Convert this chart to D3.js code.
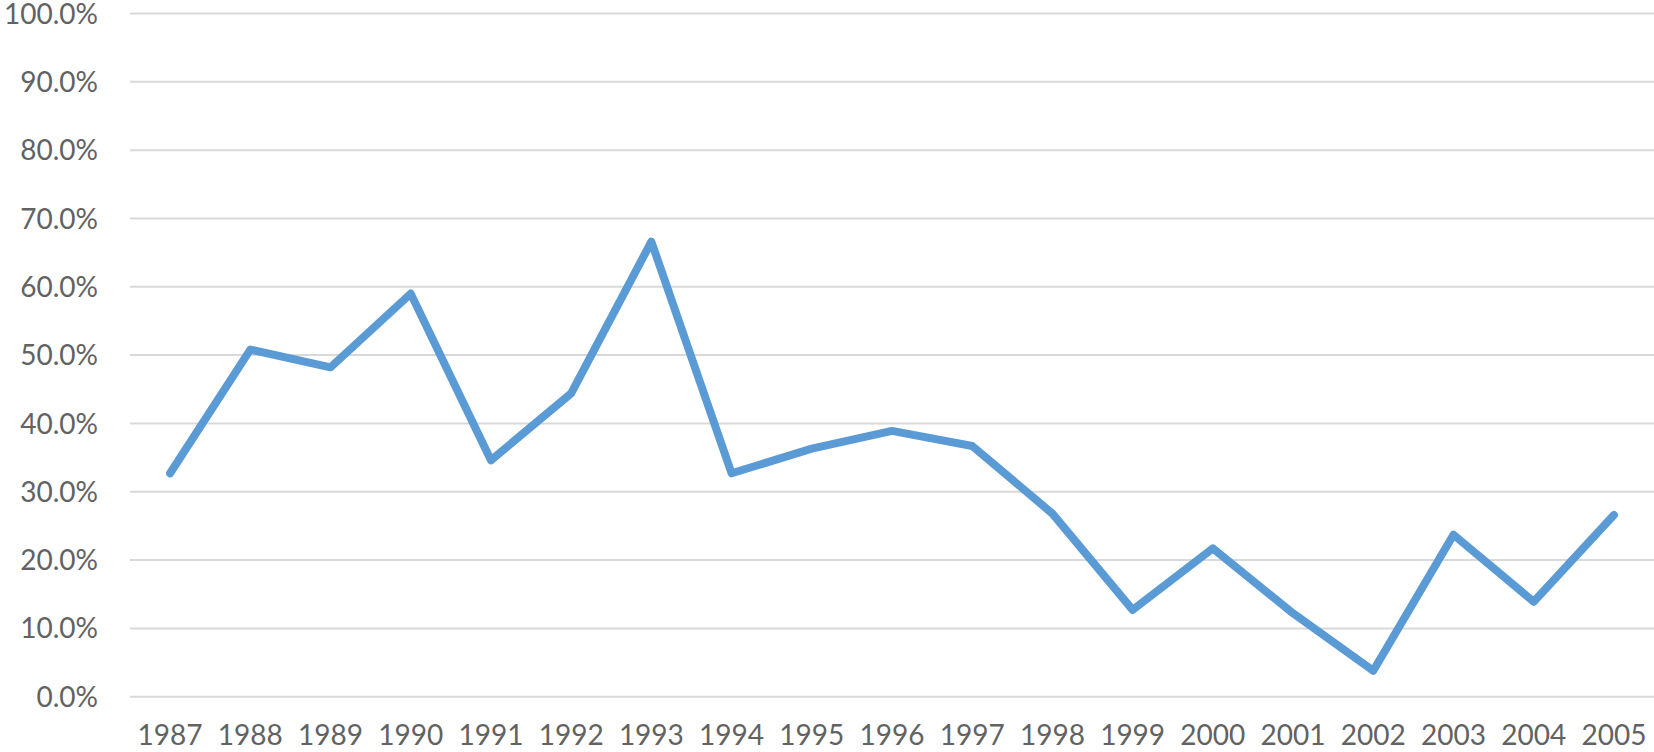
<!DOCTYPE html>
<html>
<head>
<meta charset="utf-8">
<script src="https://cdn.jsdelivr.net/npm/d3@7"></script>
<style>
  html, body { margin: 0; padding: 0; background: #fff; }
  svg { display: block; }
</style>
</head>
<body>
<svg id="chart" width="1654" height="752"></svg>
<script>
const years = ["1987","1988","1989","1990","1991","1992","1993","1994","1995","1996","1997","1998","1999","2000","2001","2002","2003","2004","2005"];
const values = [0.327, 0.508, 0.482, 0.590, 0.346, 0.444, 0.666, 0.327, 0.363, 0.389, 0.367, 0.268, 0.127, 0.217, 0.122, 0.038, 0.237, 0.139, 0.266];
const yTicks = [0, 0.1, 0.2, 0.3, 0.4, 0.5, 0.6, 0.7, 0.8, 0.9, 1.0];

(function () {
const svg = d3.select("#chart");
const mLeft = 130, mRight = 1654, mTop = 13.5, mBottom = 696.7;

const x = d3.scaleBand().domain(years).range([mLeft, mRight]);
const y = d3.scaleLinear().domain([0, 1]).range([mBottom, mTop]);

const font = "Lato, 'Open Sans', sans-serif";
const textColor = "#626262";

// gridlines
svg.append("g").selectAll("line").data(yTicks).join("line")
  .attr("x1", mLeft).attr("x2", mRight)
  .attr("y1", d => y(d)).attr("y2", d => y(d))
  .attr("stroke", "#d9d9d9").attr("stroke-width", 2);

// y axis labels
const fmt = d3.format(".1%");
svg.append("g").selectAll("text").data(yTicks).join("text")
  .attr("x", 98).attr("y", d => y(d))
  .attr("dy", "0.36em")
  .attr("text-anchor", "end")
  .attr("font-family", font).attr("font-size", 28)
  .attr("fill", textColor)
  .text(d => fmt(d));

// x axis labels
svg.append("g").selectAll("text").data(years).join("text")
  .attr("x", d => x(d) + x.bandwidth() / 2).attr("y", 745)
  .attr("text-anchor", "middle")
  .attr("font-family", font).attr("font-size", 28)
  .attr("fill", textColor)
  .text(d => d);

// line
const line = d3.line()
  .x((d, i) => x(years[i]) + x.bandwidth() / 2)
  .y(d => y(d));

svg.append("path")
  .datum(values)
  .attr("d", line)
  .attr("fill", "none")
  .attr("stroke", "#5B9BD5")
  .attr("stroke-width", 8)
  .attr("stroke-linejoin", "round")
  .attr("stroke-linecap", "round");
})();
</script>
</body>
</html>
